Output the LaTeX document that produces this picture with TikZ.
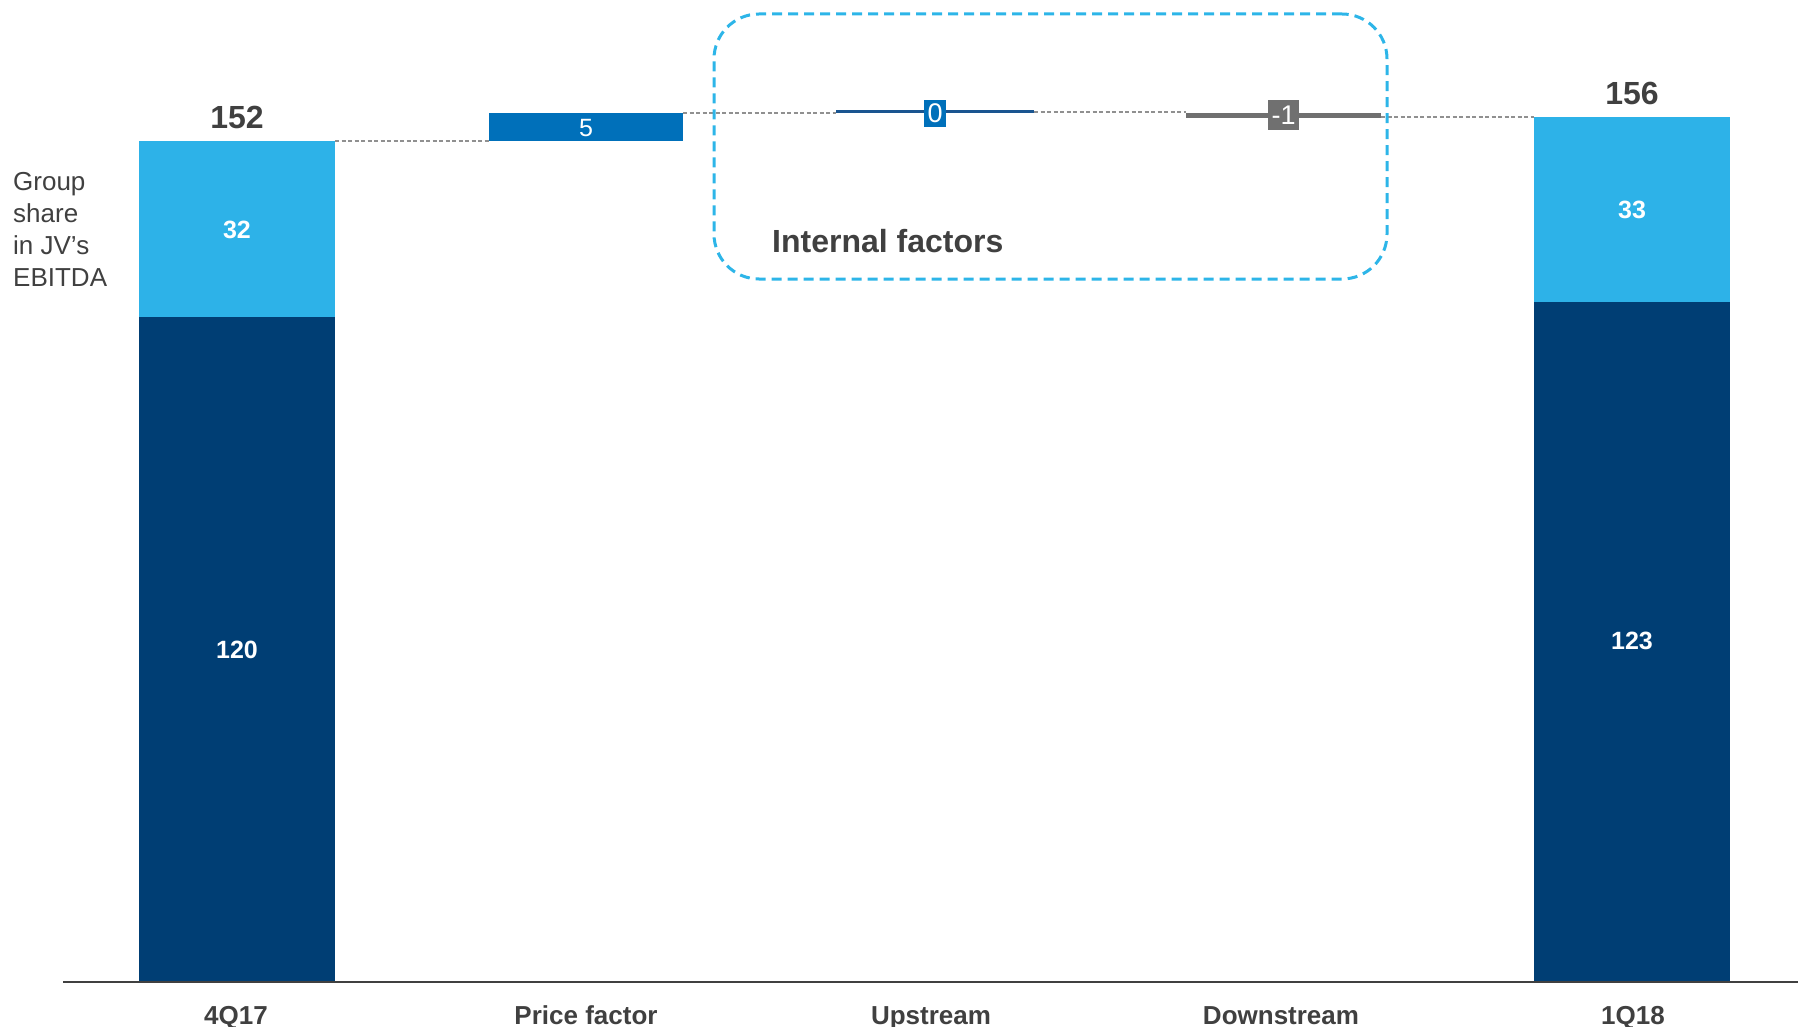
\documentclass[tikz,border=0pt]{standalone}
\usepackage{fontspec}
\setmainfont{Liberation Sans}
\definecolor{navy}{HTML}{003E74}
\definecolor{lightb}{HTML}{2DB2E8}
\definecolor{midb}{HTML}{0070BA}
\definecolor{upl}{HTML}{1A5590}
\definecolor{greyb}{HTML}{707070}
\definecolor{txt}{HTML}{404040}
\definecolor{dashg}{HTML}{909090}
\definecolor{boxb}{HTML}{2DB5E8}
\tikzset{
  barbox/.style={rectangle, inner sep=0pt, outer sep=0pt, draw=none},
  valw/.style={text=white, font=\fontsize{25}{30}\selectfont\bfseries, inner sep=0pt},
  total/.style={text=txt, font=\fontsize{32}{38}\selectfont\bfseries, inner sep=0pt},
  catlab/.style={text=txt, font=\fontsize{26}{30}\selectfont\bfseries, inner sep=0pt, anchor=base},
  conn/.style={dashg, line width=1.6pt, dash pattern=on 4pt off 2.5pt},
  tag/.style={rectangle, inner sep=0pt, outer sep=0pt, text=white, font=\fontsize{27}{30}\selectfont}
}
\begin{document}
\begin{tikzpicture}[x=1pt,y=-1pt]
\useasboundingbox (0,0) rectangle (1798,1027);
% 4Q17
\node[barbox, fill=navy, minimum width=196pt, minimum height=665pt] (q4d) at (237,649.5) {};
\node[barbox, fill=lightb, minimum width=196pt, minimum height=176pt] (q4l) at (237,229) {};
\node[valw] (v32) at (237,230) {32};
\node[valw] (v120) at (237,650) {120};
\node[total] (t152) at (237,117) {152};
% Price factor
\node[barbox, fill=midb, minimum width=194pt, minimum height=28pt] (pf) at (586,127) {};
\node[text=white, font=\fontsize{25}{28}\selectfont, inner sep=0pt] (v5) at (586,128) {5};
% Upstream
\node[barbox, fill=upl, minimum width=198pt, minimum height=3pt] (up) at (935,112) {};
\node[tag, fill=midb, minimum width=22pt, minimum height=27pt] (v0) at (935,113.5) {0};
% Downstream
\node[barbox, fill=greyb, minimum width=195pt, minimum height=5.5pt] (dn) at (1283.5,115.5) {};
\node[tag, fill=greyb, minimum width=31pt, minimum height=30pt] (vm1) at (1283.5,115) {-1};
% 1Q18
\node[barbox, fill=navy, minimum width=196pt, minimum height=680pt] (q1d) at (1632,642) {};
\node[barbox, fill=lightb, minimum width=196pt, minimum height=185pt] (q1l) at (1632,209.5) {};
\node[valw] (v33) at (1632,210) {33};
\node[valw] (v123) at (1632,641) {123};
\node[total] (t156) at (1632,93) {156};
% connectors
\draw[conn] (q4l.north east) -- (pf.south west);
\draw[conn] (pf.north east) -- (pf.north east -| up.west);
\draw[conn] (up.east) -- (up.east -| dn.west);
\draw[conn] (q1l.north west -| dn.east) -- (q1l.north west);
% internal factors box
\node[draw=boxb, line width=3pt, dash pattern=on 10pt off 6pt, rounded corners=45pt,
      minimum width=673pt, minimum height=265pt, inner sep=0pt] (ifbox) at (1050.5,146.5) {};
\node[text=txt, font=\fontsize{32}{38}\selectfont\bfseries, inner sep=0pt, anchor=base west] (iftxt) at (772,252) {Internal factors};
% axis
\coordinate (axl) at (63,982);
\coordinate (axr) at (1798,982);
\draw[txt, line width=2pt] (axl) -- (axr);
% side label
\node[text=txt, font=\fontsize{26}{32}\selectfont, inner sep=0pt, anchor=north west, align=left] (gs) at (13,172) {Group\\share\\in JV’s\\EBITDA};
% category labels
\node[catlab] (c1) at (236,1024) {4Q17};
\node[catlab] (c2) at (586,1024) {Price factor};
\node[catlab] (c3) at (931,1024) {Upstream};
\node[catlab] (c4) at (1281,1024) {Downstream};
\node[catlab] (c5) at (1633,1024) {1Q18};
\end{tikzpicture}
\end{document}
